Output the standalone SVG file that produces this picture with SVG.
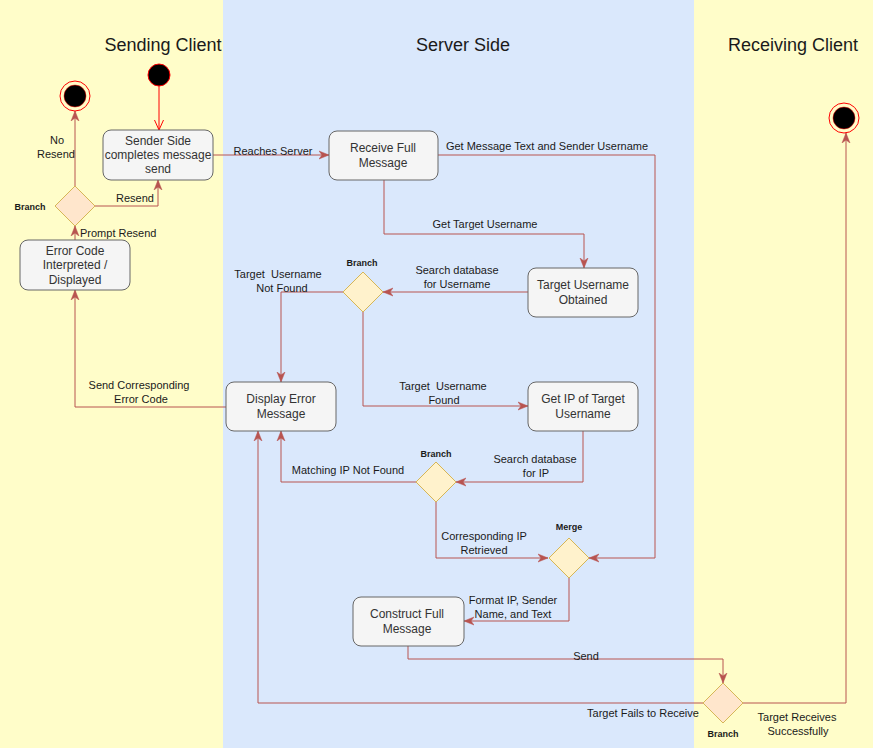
<svg xmlns="http://www.w3.org/2000/svg" width="873" height="748" viewBox="0 0 873 748">
<defs>
<style>
.lane-y{fill:#fffdc9;}
.lane-b{fill:#dae8fc;}
.title{font-family:"Liberation Sans",Arial,sans-serif;font-size:18px;fill:#1a1a1a;text-anchor:middle;}
.box{fill:#f5f5f5;stroke:#666666;stroke-width:1;}
.bt{font-family:"Liberation Sans",Arial,sans-serif;font-size:12px;fill:#333333;text-anchor:middle;}
.dia{fill:#fff2cc;stroke:#d6b656;stroke-width:1;}
.dia2{fill:#ffe6cc;stroke:#d6b656;stroke-width:1;}
.dl{font-family:"Liberation Sans",Arial,sans-serif;font-size:9px;font-weight:bold;fill:#1a1a1a;text-anchor:middle;}
.el{font-family:"Liberation Sans",Arial,sans-serif;font-size:11px;fill:#1a1a1a;text-anchor:middle;white-space:pre;}
.e{fill:none;stroke:#b85450;stroke-width:1;marker-end:url(#arr);}
</style>
<marker id="arr" viewBox="0 0 10 10" refX="10" refY="5" markerWidth="10" markerHeight="10" markerUnits="userSpaceOnUse" orient="auto">
<path d="M0,1 L10,5 L0,9 L3,5 Z" fill="#b85450" stroke="#b85450" stroke-width="0.5"/>
</marker>
<marker id="open" viewBox="0 0 10 10" refX="10" refY="5" markerWidth="10" markerHeight="10" markerUnits="userSpaceOnUse" orient="auto">
<path d="M0,0.5 L10,5 L0,9.5" fill="none" stroke="#ff0000" stroke-width="1"/>
</marker>
</defs>
<g id="lanes">
<rect class="lane-y" x="0" y="0" width="223" height="748"/>
<rect class="lane-b" x="223" y="0" width="471" height="748"/>
<rect class="lane-y" x="694" y="0" width="179" height="748"/>
<text class="title" x="163" y="51">Sending Client</text>
<text class="title" x="463" y="51">Server Side</text>
<text class="title" x="793" y="51">Receiving Client</text>
</g>
<g id="connectors">
<path d="M159,86 L159,130" fill="none" stroke="#ff0000" stroke-width="1" marker-end="url(#open)"/>
<path class="e" d="M213,155 L329,155"/>
<text class="el" x="273" y="155">Reaches Server</text>
<path class="e" d="M75,240 L75,226"/>
<text class="el" x="80" y="237" style="text-anchor:start">Prompt Resend</text>
<path class="e" d="M75,186 L75,111"/>
<text class="el" x="57" y="144">No</text>
<text class="el" x="56" y="158">Resend</text>
<path class="e" d="M95,206 L158,206 L158,180"/>
<text class="el" x="135" y="202">Resend</text>
<path class="e" d="M438,155 L655,155 L655,558 L589,558"/>
<text class="el" x="547" y="150">Get Message Text and Sender Username</text>
<path class="e" d="M384,180 L384,234 L584,234 L584,268"/>
<text class="el" x="485" y="228">Get Target Username</text>
<path class="e" d="M528,292 L383,292"/>
<text class="el" x="457" y="274">Search database</text>
<text class="el" x="457" y="288">for Username</text>
<path class="e" d="M343,292 L281,292 L281,382"/>
<text class="el" x="278" y="278" xml:space="preserve">Target  Username</text>
<text class="el" x="282" y="292">Not Found</text>
<path class="e" d="M363,312 L363,406 L528,406"/>
<text class="el" x="443" y="390" xml:space="preserve">Target  Username</text>
<text class="el" x="444" y="404">Found</text>
<path class="e" d="M226,407 L75,407 L75,290"/>
<text class="el" x="139" y="389">Send Corresponding</text>
<text class="el" x="141" y="403">Error Code</text>
<path class="e" d="M583,431 L583,482 L456,482"/>
<text class="el" x="535" y="463">Search database</text>
<text class="el" x="536" y="477">for IP</text>
<path class="e" d="M416,482 L281,482 L281,431"/>
<text class="el" x="348" y="474">Matching IP Not Found</text>
<path class="e" d="M436,502 L436,558 L548,558"/>
<text class="el" x="484" y="540">Corresponding IP</text>
<text class="el" x="484" y="554">Retrieved</text>
<path class="e" d="M569,578 L569,621 L464,621"/>
<text class="el" x="513" y="604">Format IP, Sender</text>
<text class="el" x="513" y="618">Name, and Text</text>
<path class="e" d="M408,646 L408,659 L723,659 L723,683"/>
<text class="el" x="586" y="660">Send</text>
<path class="e" d="M703,703 L258,703 L258,431"/>
<text class="el" x="643" y="717">Target Fails to Receive</text>
<path class="e" d="M743,703 L846,703 L846,133"/>
<text class="el" x="797" y="721">Target Receives</text>
<text class="el" x="798" y="735">Successfully</text>
</g>
<g id="start">
<circle cx="159" cy="75" r="11" fill="#000000" stroke="#ff0000" stroke-width="1"/>
</g>
<g id="end-sending">
<circle cx="75" cy="96" r="15" fill="none" stroke="#ff0000" stroke-width="1"/>
<circle cx="75" cy="96" r="11" fill="#000000" stroke="#ff0000" stroke-width="0.5"/>
</g>
<g id="end-receiving">
<circle cx="844" cy="118" r="15" fill="none" stroke="#ff0000" stroke-width="1"/>
<circle cx="844" cy="118" r="11" fill="#000000" stroke="#ff0000" stroke-width="0.5"/>
</g>
<g id="sender-side">
<rect class="box" x="103" y="130" width="110" height="50" rx="8"/>
<text class="bt" x="158" y="145">Sender Side</text>
<text class="bt" x="158" y="159">completes message</text>
<text class="bt" x="158" y="173">send</text>
</g>
<g id="branch-sending">
<path class="dia2" d="M75,186 L95,206 L75,226 L55,206 Z"/>
<text class="dl" x="30" y="210">Branch</text>
</g>
<g id="error-code">
<rect class="box" x="20" y="240" width="110" height="50" rx="8"/>
<text class="bt" x="75" y="255">Error Code</text>
<text class="bt" x="75" y="269">Interpreted /</text>
<text class="bt" x="75" y="284">Displayed</text>
</g>
<g id="receive-full">
<rect class="box" x="329" y="131" width="109" height="49" rx="8"/>
<text class="bt" x="383" y="152">Receive Full</text>
<text class="bt" x="383" y="167">Message</text>
</g>
<g id="target-obtained">
<rect class="box" x="528" y="268" width="110" height="49" rx="8"/>
<text class="bt" x="583" y="289">Target Username</text>
<text class="bt" x="583" y="304">Obtained</text>
</g>
<g id="branch-1">
<path class="dia" d="M363,272 L383,292 L363,312 L343,292 Z"/>
<text class="dl" x="362" y="266">Branch</text>
</g>
<g id="display-error">
<rect class="box" x="226" y="382" width="110" height="49" rx="8"/>
<text class="bt" x="281" y="403">Display Error</text>
<text class="bt" x="281" y="418">Message</text>
</g>
<g id="get-ip">
<rect class="box" x="528" y="382" width="110" height="49" rx="8"/>
<text class="bt" x="583" y="403">Get IP of Target</text>
<text class="bt" x="583" y="418">Username</text>
</g>
<g id="branch-2">
<path class="dia" d="M436,462 L456,482 L436,502 L416,482 Z"/>
<text class="dl" x="436" y="457">Branch</text>
</g>
<g id="merge">
<path class="dia" d="M569,538 L589,558 L569,578 L549,558 Z"/>
<text class="dl" x="569" y="530">Merge</text>
</g>
<g id="construct">
<rect class="box" x="353" y="597" width="111" height="49" rx="8"/>
<text class="bt" x="407" y="618">Construct Full</text>
<text class="bt" x="407" y="633">Message</text>
</g>
<g id="branch-receive">
<path class="dia2" d="M723,683 L743,703 L723,723 L703,703 Z"/>
<text class="dl" x="723" y="737">Branch</text>
</g>
</svg>
